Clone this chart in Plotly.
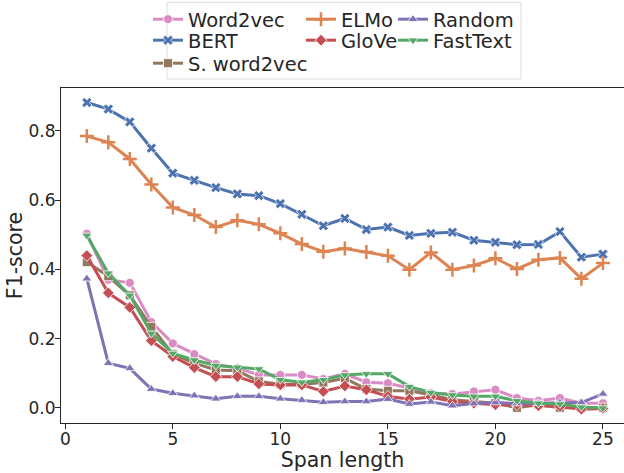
import plotly.graph_objects as go

# ---------------------------------------------------------------------------
# DATA
# ---------------------------------------------------------------------------
span_length = list(range(1, 26))

word2vec = [0.503, 0.370, 0.361, 0.248, 0.186, 0.155, 0.126, 0.114, 0.095, 0.095,
            0.095, 0.083, 0.098, 0.074, 0.071, 0.057, 0.042, 0.040, 0.047, 0.052,
            0.028, 0.020, 0.028, 0.013, 0.013]
bert = [0.882, 0.863, 0.826, 0.750, 0.678, 0.657, 0.636, 0.618, 0.613, 0.590,
        0.559, 0.526, 0.547, 0.515, 0.522, 0.498, 0.504, 0.507, 0.484, 0.478,
        0.471, 0.472, 0.509, 0.435, 0.444]
s_word2vec = [0.421, 0.380, 0.325, 0.234, 0.155, 0.129, 0.109, 0.107, 0.076, 0.068,
              0.068, 0.073, 0.085, 0.054, 0.049, 0.049, 0.037, 0.023, 0.018, 0.013,
              0.000, 0.009, 0.000, 0.000, 0.000]
elmo = [0.785, 0.767, 0.719, 0.645, 0.579, 0.557, 0.522, 0.542, 0.530, 0.504,
        0.473, 0.451, 0.460, 0.450, 0.439, 0.399, 0.449, 0.399, 0.411, 0.432,
        0.401, 0.428, 0.433, 0.373, 0.418]
glove = [0.440, 0.332, 0.290, 0.194, 0.148, 0.116, 0.090, 0.090, 0.069, 0.066,
         0.066, 0.047, 0.063, 0.052, 0.033, 0.025, 0.031, 0.018, 0.013, 0.009,
         0.009, 0.006, 0.004, -0.004, -0.002]
random_emb = [0.373, 0.129, 0.114, 0.054, 0.042, 0.035, 0.026, 0.033, 0.033, 0.026,
              0.022, 0.016, 0.018, 0.018, 0.025, 0.011, 0.017, 0.006, 0.012, 0.015,
              0.012, 0.013, 0.015, 0.015, 0.040]
fasttext = [0.498, 0.389, 0.325, 0.215, 0.157, 0.138, 0.122, 0.117, 0.112, 0.081,
            0.074, 0.081, 0.095, 0.098, 0.098, 0.061, 0.044, 0.037, 0.033, 0.033,
            0.020, 0.013, 0.011, 0.002, -0.001]

x_ticks = [0, 5, 10, 15, 20, 25]
y_ticks = [0.0, 0.2, 0.4, 0.6, 0.8]

# name, values, colour, marker symbol, legend (column, row)
series = [
    ('Word2vec', word2vec, '#DA8BC3', 'circle', (0, 0)),
    ('BERT', bert, '#4C72B0', 'x', (0, 1)),
    ('S. word2vec', s_word2vec, '#937860', 'square', (0, 2)),
    ('ELMo', elmo, '#DD8452', 'cross-thin', (1, 0)),
    ('GloVe', glove, '#C44E52', 'diamond', (1, 1)),
    ('Random', random_emb, '#8172B3', 'triangle-up', (2, 0)),
    ('FastText', fasttext, '#55A868', 'triangle-down', (2, 1)),
]

TEXT_COLOR = '#262626'
FONT = 'DejaVu Sans'
W, H = 624, 473
M_L, M_R, M_T, M_B = 61, 0, 87, 50
PLOT_W = W - M_L - M_R
PLOT_H = H - M_T - M_B

# legend layout in pixels (matplotlib style 3 column legend, filled column-wise)
LEGEND_COL_X = [148, 301, 393]
LEGEND_ROW_TOP = [-1, 21, 44]


def px_x(px):
    """Pixel column -> x paper fraction"""
    return (px - M_L) / PLOT_W


def px_y(py):
    """Pixel row (from top) -> y paper fraction"""
    return (H - M_B - py) / PLOT_H


fig = go.Figure()
legends = {}

for i, (name, values, color, symbol, (col, row)) in enumerate(series):
    is_thin = symbol.endswith('-thin')
    legend_id = 'legend' if i == 0 else f'legend{i + 1}'
    fig.add_trace(go.Scatter(
        x=span_length,
        y=values,
        name=name,
        mode='lines+markers',
        legend=legend_id,
        showlegend=True,
        line=dict(color=color, width=3),
        marker=dict(
            symbol=symbol,
            size=9 if not is_thin else 10,
            color=color,
            line=dict(color=color if is_thin else 'white', width=2.5 if is_thin else 0.8),
        ),
    ))
    # one legend per entry so that entries can be placed like the reference
    legends[legend_id] = dict(
        font=dict(family=FONT, size=19.5, color=TEXT_COLOR),
        bgcolor='rgba(0,0,0,0)',
        xanchor='left',
        x=px_x(LEGEND_COL_X[col]),
        yanchor='top',
        y=px_y(LEGEND_ROW_TOP[row]),
        itemwidth=30,
    )

fig.update_layout(
    width=W,
    height=H,
    showlegend=True,
    margin=dict(l=M_L, r=M_R, t=M_T, b=M_B),
    plot_bgcolor='white',
    paper_bgcolor='white',
    font=dict(family=FONT, color=TEXT_COLOR),
    # legend frame (matplotlib style box around all three columns)
    shapes=[dict(
        type='rect', xref='paper', yref='paper',
        x0=px_x(167), x1=px_x(521),
        y0=px_y(78), y1=px_y(1),
        line=dict(color='#dddddd', width=1),
        fillcolor='rgba(255,255,255,0.8)',
        layer='below',
    )],
    **legends,
)

fig.update_xaxes(
    range=[-0.2, 25.98],
    tickvals=x_ticks,
    ticks='outside', ticklen=5, tickwidth=1.2, tickcolor=TEXT_COLOR,
    tickfont=dict(size=17, color=TEXT_COLOR),
    ticklabelstandoff=-5,
    showgrid=False, zeroline=False, automargin=False,
    showline=True, linecolor=TEXT_COLOR, linewidth=1.2, mirror=True,
    title=dict(text='Span length', font=dict(size=20.5, color=TEXT_COLOR), standoff=0),
)

fig.update_yaxes(
    range=[-0.044, 0.924],
    tickvals=y_ticks,
    tickformat='.1f',
    ticks='outside', ticklen=5, tickwidth=1.2, tickcolor=TEXT_COLOR,
    tickfont=dict(size=17, color=TEXT_COLOR),
    ticklabelstandoff=-4,
    showgrid=False, zeroline=False, automargin=False,
    showline=True, linecolor=TEXT_COLOR, linewidth=1.2,
    title=dict(text='F1-score', font=dict(size=20.5, color=TEXT_COLOR), standoff=0),
)

# drop the default page margin so the figure sits at the window's top-left corner
fig.write_html("out.html", config={'displayModeBar': False},
               post_script="document.body.style.margin='0';")
